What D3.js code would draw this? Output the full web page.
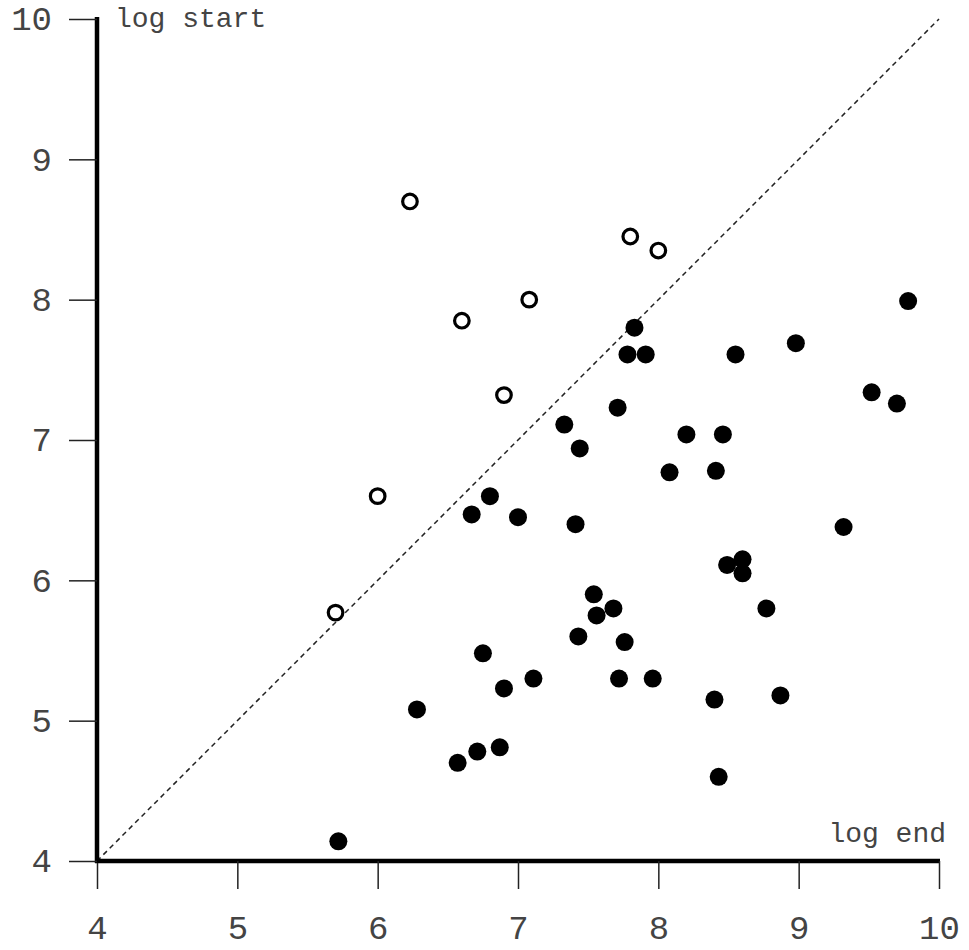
<!DOCTYPE html>
<html><head><meta charset="utf-8">
<script src="https://cdn.jsdelivr.net/npm/d3@7/dist/d3.min.js"></script>
<style>body{margin:0;background:#fff}svg{display:block}</style>
</head><body>
<svg id="c" width="969" height="950"></svg>
<script>
const xTicks = [4,5,6,7,8,9,10];
const yTicks = [4,5,6,7,8,9,10];
const xLabel = "log end";
const yLabel = "log start";
// open circles (above the diagonal)
const openX = [6.23,7.80,8.00,7.08,6.60,6.90,6.00,5.70];
const openY = [8.70,8.45,8.35,8.00,7.85,7.32,6.60,5.77];
// filled circles
const fillX = [9.78,8.98,7.83,7.78,7.91,8.55,9.52,9.70,7.71,7.33,8.20,8.46,7.44,8.08,8.41,6.80,6.67,7.00,7.41,9.32,8.60,8.49,8.60,7.54,7.68,7.56,8.77,7.76,7.43,7.72,7.96,6.75,7.11,6.90,6.28,6.57,6.71,6.87,8.40,8.87,8.43,5.72];
const fillY = [7.99,7.69,7.80,7.61,7.61,7.61,7.34,7.26,7.23,7.11,7.04,7.04,6.94,6.77,6.78,6.60,6.47,6.45,6.40,6.38,6.15,6.11,6.05,5.90,5.80,5.75,5.80,5.56,5.60,5.30,5.30,5.48,5.30,5.23,5.08,4.70,4.78,4.81,5.15,5.18,4.60,4.14];

const svg = d3.select("#c");
const x = d3.scaleLinear().domain([4,10]).range([97,939]);
const y = d3.scaleLinear().domain([4,10]).range([861,19]);
const font = "'Liberation Mono','Courier New',monospace";
const tickFs = 34;

// diagonal
svg.append("line")
  .attr("x1", x(4)).attr("y1", y(4)).attr("x2", x(10)).attr("y2", y(10))
  .attr("stroke", "#222").attr("stroke-width", 1.5).attr("stroke-dasharray", "5,4");

const gx = svg.append("g").attr("transform", `translate(0,${y(4)})`)
  .call(d3.axisBottom(x).tickValues(xTicks).tickSize(28).tickSizeOuter(0).tickPadding(26).tickFormat(d3.format("d")));
const gy = svg.append("g").attr("transform", `translate(${x(4)},0)`)
  .call(d3.axisLeft(y).tickValues(yTicks).tickSize(28).tickSizeOuter(0).tickPadding(17).tickFormat(d3.format("d")));
[gx, gy].forEach(g => {
  g.select(".domain").attr("stroke", "#000").attr("stroke-width", 4.5);
  g.selectAll(".tick line").attr("stroke", "#222").attr("stroke-width", 1.5);
  g.selectAll(".tick text").attr("font-family", font).attr("font-size", tickFs).attr("fill", "#444");
});
gx.selectAll(".tick text").attr("dy", null).attr("y", 78);
gx.select(".domain").attr("d", `M${x(4)-2},0H${x(10)+1}`);
gy.select(".domain").attr("d", `M0,${y(10)-2}V${y(4)+2}`);

// points
svg.append("g").selectAll("circle").data(fillX.map((v,i)=>[v,fillY[i]])).join("circle")
  .attr("cx", d=>x(d[0])).attr("cy", d=>y(d[1])).attr("r", 9).attr("fill", "#000");
svg.append("g").selectAll("circle").data(openX.map((v,i)=>[v,openY[i]])).join("circle")
  .attr("cx", d=>x(d[0])).attr("cy", d=>y(d[1])).attr("r", 7.3)
  .attr("fill", "#fff").attr("stroke", "#000").attr("stroke-width", 3.2);

// axis titles
svg.append("text").attr("x", 115).attr("y", 27).attr("font-family", font).attr("font-size", 28)
  .attr("fill", "#444").text(yLabel);
svg.append("text").attr("x", 946).attr("y", 842).attr("text-anchor", "end").attr("font-family", font).attr("font-size", 28)
  .attr("fill", "#444").text(xLabel);
</script>
</body></html>
